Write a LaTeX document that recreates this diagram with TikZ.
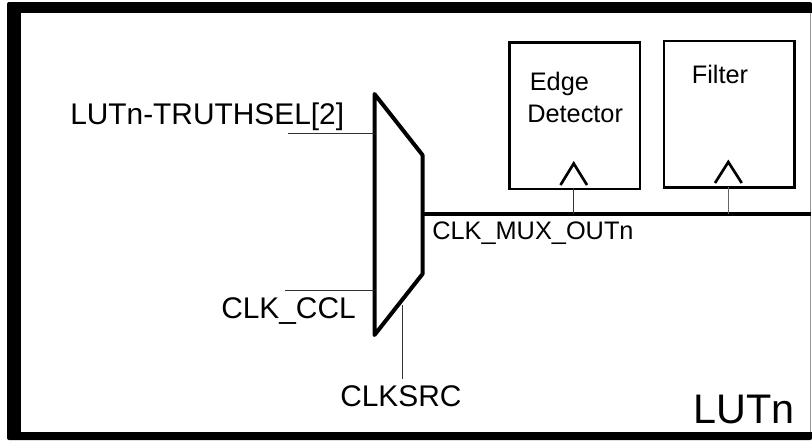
\documentclass[tikz,border=0pt]{standalone}
\usepackage{fontspec}
\setmainfont{Liberation Sans}
\definecolor{edgegray}{gray}{0.6}
\tikzset{
  px/.style={x=0.75pt,y=-0.75pt},
  blockbox/.style={draw,line width=2pt,minimum width=98pt,minimum height=110pt,inner sep=0pt,anchor=north west},
  wire/.style={draw=black!80,line width=0.75pt},
  bus/.style={draw=black,line width=2.5pt},
  clockmark/.style={draw,line width=2pt,line join=miter},
  muxbody/.style={draw,line width=3pt,line join=round},
  biglab/.style={inner sep=0pt,anchor=base west,font=\fontsize{22.4pt}{24pt}\selectfont},
  smalllab/.style={inner sep=0pt,anchor=base west,font=\fontsize{19pt}{22pt}\selectfont},
}
\begin{document}
\begin{tikzpicture}[px]
\useasboundingbox (0,0) rectangle (812,440);
\fill[white] (0,0) rectangle (812,440);
% LUTn frame
\fill[black,rounded corners=1.5pt] (7,2) -- (812,2) -- (812,440) -- (7,440) -- cycle;
\fill[white] (21,13) rectangle (812,432);
\fill[edgegray] (810,13) rectangle (811,432);
% mux
\coordinate (m1) at (374.5,94);
\coordinate (m2) at (422.5,155);
\coordinate (m3) at (422.5,274);
\coordinate (m4) at (374.5,335);
\draw[muxbody] (m1) -- (m2) -- (m3) -- (m4) -- cycle;
% blocks
\node[blockbox] (edge) at (508,41) {};
\node[blockbox] (filter) at (662.7,39.5) {};
\node[smalllab] (edgeA) at (529.5,90) {Edge};
\node[smalllab] (edgeB) at (527,122.5) {Detector};
\node[smalllab] (filterT) at (691.5,83) {Filter};
% clock triangles
\coordinate (ea) at (560.5,185);
\coordinate (eb) at (573.7,163.5);
\coordinate (ec) at (587,185);
\coordinate (fa) at (715,183);
\coordinate (fb) at (728.3,162);
\coordinate (fc) at (741.7,183);
\draw[clockmark] (ea) -- (eb) -- (ec);
\draw[clockmark] (fa) -- (fb) -- (fc);
% output bus
\coordinate (busend) at (811,214);
\coordinate (busstart) at (422.5,214);
\draw[bus] (busstart) -- (busend);
\coordinate (ebus) at (573.5,214);
\coordinate (fbus) at (728,214);
\coordinate (eclk) at (573.5,188);
\coordinate (fclk) at (728,187);
\draw[wire] (eclk) -- (ebus);
\draw[wire,draw=black!60] (fclk) -- (fbus);
% inputs
\coordinate (i1a) at (288,133.5);
\coordinate (i1b) at (374,133.5);
\coordinate (i2a) at (285,290.7);
\coordinate (i2b) at (374,290.7);
\coordinate (i3a) at (402,305);
\coordinate (i3b) at (402,379);
\draw[wire] (i1a) -- (i1b);
\draw[wire] (i2a) -- (i2b);
\draw[wire] (i3a) -- (i3b);
% labels
\node[biglab] (truth) at (70,124) {LUTn-TRUTHSEL[2]};
\node[biglab] (ccl) at (221,318) {CLK\_CCL};
\node[biglab] (src) at (340,406) {CLKSRC};
\node[smalllab] (mux) at (432,239) {CLK\_MUX\_OUTn};
\node[font=\fontsize{31pt}{33pt}\selectfont,inner sep=0pt,anchor=base west] (lut) at (693.5,423) {LUTn};
\end{tikzpicture}
\end{document}
